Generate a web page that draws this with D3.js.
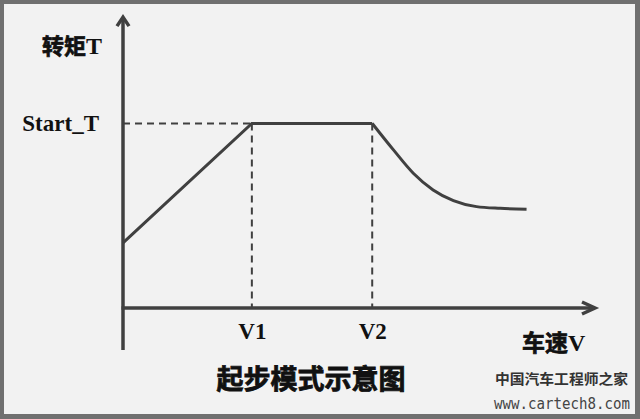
<!DOCTYPE html>
<html><head><meta charset="utf-8">
<script src="https://cdn.jsdelivr.net/npm/d3@7"></script>
<style>
html,body{margin:0;padding:0;background:#707070;}
svg{display:block;}
</style></head>
<body>
<svg id="c" width="640" height="419"></svg>
<script>
// ---- data ----
const speedTickLabels = ["V1", "V2"];
const speedTickValues = [27.3, 52.8];
const torqueTickLabels = ["Start_T"];
const torqueTickValues = [64.1];
const riseSpeed  = [0, 27.3, 52.8];
const riseTorque = [22.6, 64.1, 64.1];
const fadeSpeed  = [52.8, 57.3, 61.5, 65.7, 70.0, 74.9, 79.9, 85.5];
const fadeTorque = [64.1, 54.9, 46.8, 41.0, 37.3, 35.2, 34.6, 34.3];
const yAxisTitle = ["转矩", "T"];
const xAxisTitle = ["车速", "V"];
const chartTitle = "起步模式示意图";
const watermark1 = "中国汽车工程师之家";
const watermark2 = "www.cartech8.com";

const svg = d3.select("#c");
const ink = "#404040";
const cjk = "'Noto Sans CJK SC','Noto Sans CJK JP',sans-serif";
const serif = "'Liberation Serif','DejaVu Serif',serif";

// frame
svg.append("rect").attr("x",0).attr("y",0).attr("width",640).attr("height",419).attr("fill","#707070");
svg.append("rect").attr("x",4).attr("y",4).attr("width",631).attr("height",410).attr("fill","#f2f2f2");

const x = d3.scaleLinear().domain([0,100]).range([123,595]);
const y = d3.scaleLinear().domain([0,100]).range([308,20]);

// dashed guides
const g = svg.append("g");
g.append("line").attr("x1",x(0)).attr("x2",x(speedTickValues[0]))
 .attr("y1",y(torqueTickValues[0])).attr("y2",y(torqueTickValues[0]))
 .attr("stroke",ink).attr("stroke-width",2).attr("stroke-dasharray","7,5");
speedTickValues.forEach(v=>{
  g.append("line").attr("x1",x(v)).attr("x2",x(v))
   .attr("y1",y(torqueTickValues[0])).attr("y2",y(0))
   .attr("stroke",ink).attr("stroke-width",2).attr("stroke-dasharray","7,5");
});

// axes lines with arrows
const yTop = y(101);
svg.append("line").attr("x1",x(0)).attr("x2",x(0)).attr("y1",y(-14.6)).attr("y2",yTop+1)
  .attr("stroke",ink).attr("stroke-width",3.5);
svg.append("line").attr("x1",x(0)-1.5).attr("x2",x(100)-1).attr("y1",y(0)).attr("y2",y(0))
  .attr("stroke",ink).attr("stroke-width",3.5);
svg.append("path").attr("d",`M${x(0)-6},${yTop+9}L${x(0)},${yTop}L${x(0)+6},${yTop+9}`)
  .attr("fill","none").attr("stroke",ink).attr("stroke-width",3.5).attr("stroke-linejoin","miter");
svg.append("path").attr("d",`M${x(100)-13},${y(0)-6}L${x(100)},${y(0)}L${x(100)-13},${y(0)+6}`)
  .attr("fill","none").attr("stroke",ink).attr("stroke-width",3.5).attr("stroke-linejoin","miter");

// tick labels via d3 axes
const xa = svg.append("g").attr("transform",`translate(0,${y(0)})`)
  .call(d3.axisBottom(x).tickValues(speedTickValues).tickFormat((d,i)=>speedTickLabels[i]).tickSize(0).tickPadding(0));
xa.select(".domain").remove();
xa.selectAll("text").attr("y",31).attr("dy",0).attr("fill","#111")
  .style("font-family",serif).style("font-weight","bold").style("font-size","23px");

const ya = svg.append("g").attr("transform",`translate(${x(0)},0)`)
  .call(d3.axisLeft(y).tickValues(torqueTickValues).tickFormat((d,i)=>torqueTickLabels[i]).tickSize(0).tickPadding(0));
ya.select(".domain").remove();
ya.selectAll("text").attr("x",-24).attr("dy",0).attr("y",7.5).attr("fill","#111")
  .style("font-family",serif).style("font-weight","bold").style("font-size","23px");

// data curves
const line = d3.line().x(d=>x(d[0])).y(d=>y(d[1]));
svg.append("path").datum(riseSpeed.map((s,i)=>[s,riseTorque[i]]))
  .attr("d",line.curve(d3.curveLinear)).attr("fill","none").attr("stroke",ink).attr("stroke-width",3).attr("stroke-linejoin","miter");
svg.append("path").datum(fadeSpeed.map((s,i)=>[s,fadeTorque[i]]))
  .attr("d",d3.line().x(d=>x(d[0])).y(d=>y(d[1])).curve(d3.curveMonotoneX)).attr("fill","none").attr("stroke",ink).attr("stroke-width",3);

// axis titles
const yt = svg.append("text").attr("x",42).attr("y",54).attr("fill","#111").style("font-weight","bold");
yt.append("tspan").text(yAxisTitle[0]).style("font-family",cjk).style("font-size","22px")
  .attr("stroke","#111").attr("stroke-width",0.7);
yt.append("tspan").text(yAxisTitle[1]).style("font-family",serif).style("font-size","24px");

const xt = svg.append("text").attr("x",522).attr("y",351).attr("fill","#111").style("font-weight","bold");
xt.append("tspan").text(xAxisTitle[0]).style("font-family",cjk).style("font-size","23px")
  .attr("stroke","#111").attr("stroke-width",0.7);
xt.append("tspan").text(xAxisTitle[1]).style("font-family",serif).style("font-size","24px");

// title
svg.append("text").attr("x",311).attr("y",389).attr("text-anchor","middle").attr("fill","#111")
  .attr("stroke","#111").attr("stroke-width",0.8)
  .style("font-family",cjk).style("font-weight","bold").style("font-size","27px").text(chartTitle);

// watermark
svg.append("text").attr("x",495).attr("y",384).attr("fill","#333")
  .attr("textLength",133).attr("lengthAdjust","spacingAndGlyphs")
  .style("font-family",cjk).style("font-weight","bold").style("font-size","14px").text(watermark1);
svg.append("text").attr("x",494).attr("y",409).attr("fill","#444")
  .attr("textLength",136).attr("lengthAdjust","spacingAndGlyphs")
  .style("font-family","'DejaVu Sans Mono',monospace").style("font-size","15px").text(watermark2);
</script>
</body></html>
